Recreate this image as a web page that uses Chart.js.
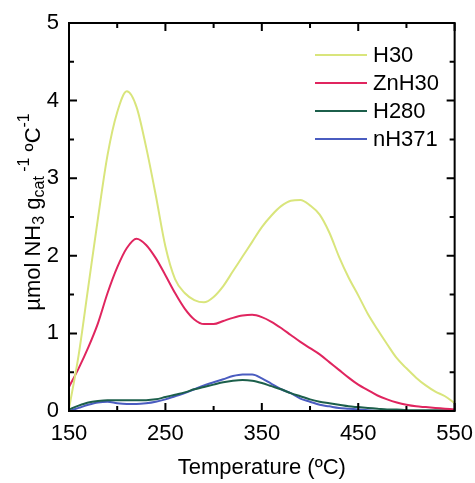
<!DOCTYPE html>
<html>
<head>
<meta charset="utf-8">
<script src="https://cdn.jsdelivr.net/npm/chart.js@4/dist/chart.umd.min.js"></script>
<style>
  body { margin: 0; background: #fff; }
  #wrap { width: 475px; height: 483px; }
</style>
</head>
<body>
<div id="wrap"><canvas id="myChart" width="475" height="483"></canvas></div>
<script>
// temperatura (ºC), cada 10 grados
const temperaturas = [150,160,170,180,190,200,210,220,230,240,250,260,270,280,290,300,310,320,330,340,350,
  360,370,380,390,400,410,420,430,440,450,460,470,480,490,500,510,520,530,540,550];

const serieH30 = [0.03,0.72,1.60,2.48,3.30,3.85,4.12,3.92,3.40,2.78,2.12,1.70,1.52,1.43,1.40,1.47,1.61,1.80,1.99,2.18,2.37,
  2.52,2.64,2.71,2.72,2.65,2.53,2.30,1.99,1.72,1.49,1.25,1.05,0.86,0.68,0.55,0.43,0.33,0.25,0.19,0.10];
const serieZnH30 = [0.31,0.55,0.82,1.13,1.52,1.85,2.10,2.22,2.14,1.97,1.75,1.52,1.32,1.18,1.12,1.12,1.16,1.20,1.23,1.24,1.21,
  1.15,1.07,0.98,0.89,0.81,0.73,0.63,0.53,0.43,0.34,0.27,0.20,0.15,0.11,0.08,0.06,0.05,0.04,0.03,0.02];
const serieH280 = [0.02,0.07,0.11,0.13,0.14,0.14,0.14,0.14,0.14,0.15,0.18,0.21,0.24,0.28,0.31,0.34,0.37,0.39,0.40,0.39,0.36,
  0.32,0.28,0.23,0.19,0.15,0.12,0.10,0.08,0.06,0.05,0.04,0.03,0.02,0.02,0.01,0.01,0.01,0.01,0.01,0.01];
const serieNH371 = [0.00,0.04,0.08,0.11,0.12,0.10,0.09,0.09,0.10,0.12,0.15,0.19,0.23,0.28,0.33,0.37,0.41,0.45,0.47,0.47,0.42,
  0.35,0.28,0.23,0.16,0.12,0.08,0.06,0.04,0.03,0.02,0.01,0.00,0.00,0.00,0.00,0.00,0.00,0.00,0.00,0.00];

const nombres = ['H30', 'ZnH30', 'H280', 'nH371'];
const colores = ['#d9e57c', '#e0255f', '#1c5f4b', '#4a5cc0'];
const series = [serieH30, serieZnH30, serieH280, serieNH371];

const fuente = '"Liberation Sans", Arial, Helvetica, sans-serif';

// arma los puntos x,y para cada serie
const datasets = series.map((serie, i) => ({
  label: nombres[i],
  data: serie.map((v, j) => ({ x: temperaturas[j], y: v })),
  borderColor: colores[i],
  backgroundColor: colores[i],
  borderWidth: 2,
  pointRadius: 0,
  cubicInterpolationMode: 'monotone',
  fill: false
}));

// marco y ticks hacia adentro
const marcoPlugin = {
  id: 'marco',
  afterDraw(chart) {
    const ctx = chart.ctx;
    const a = chart.chartArea;
    const sx = chart.scales.x, sy = chart.scales.y;
    ctx.save();
    ctx.strokeStyle = '#000';
    ctx.lineWidth = 2;
    ctx.strokeRect(a.left, a.top, a.right - a.left, a.bottom - a.top);
    ctx.beginPath();
    for (let t = 150; t <= 550; t += 50) {
      const x = sx.getPixelForValue(t);
      const largo = (t - 150) % 100 == 0 ? 8 : 5;
      ctx.moveTo(x, a.bottom); ctx.lineTo(x, a.bottom - largo);
      ctx.moveTo(x, a.top); ctx.lineTo(x, a.top + largo);
    }
    for (let v = 0; v <= 5; v += 0.5) {
      const y = sy.getPixelForValue(v);
      const largo = v % 1 == 0 ? 8 : 5;
      ctx.moveTo(a.left, y); ctx.lineTo(a.left + largo, y);
      ctx.moveTo(a.right, y); ctx.lineTo(a.right - largo, y);
    }
    ctx.stroke();

    // leyenda
    ctx.font = '22px ' + fuente;
    ctx.textBaseline = 'middle';
    ctx.fillStyle = '#000';
    nombres.forEach((n, i) => {
      const y = 55 + i * 28;
      ctx.strokeStyle = colores[i];
      ctx.lineWidth = 2;
      ctx.beginPath();
      ctx.moveTo(315, y); ctx.lineTo(367, y);
      ctx.stroke();
      ctx.fillText(n, 373, y + 1);
    });

    // titulo eje y con subindices y superindices
    const partes = [
      { t: 'µmol NH', s: 22, dy: 0 },
      { t: '3', s: 16, dy: 4 },
      { t: ' g', s: 22, dy: 0 },
      { t: 'cat', s: 16, dy: 4 },
      { t: ' -1', s: 16, dy: -11 },
      { t: ' ºC', s: 22, dy: 0 },
      { t: '-1', s: 16, dy: -11 }
    ];
    let total = 0;
    partes.forEach(p => { ctx.font = p.s + 'px ' + fuente; p.w = ctx.measureText(p.t).width; total += p.w; });
    ctx.translate(40, 212);
    ctx.rotate(-Math.PI / 2);
    ctx.textBaseline = 'alphabetic';
    let x = -total / 2;
    partes.forEach(p => {
      ctx.font = p.s + 'px ' + fuente;
      ctx.fillText(p.t, x, p.dy);
      x += p.w;
    });
    ctx.restore();
  }
};

const config = {
  type: 'line',
  data: { datasets },
  options: {
    responsive: false,
    animation: false,
    layout: { padding: { top: 23, right: 0, left: 0, bottom: 0 } },
    plugins: { legend: { display: false }, tooltip: { enabled: false } },
    scales: {
      x: {
        type: 'linear',
        min: 150, max: 550,
        grid: { display: false },
        border: { display: false },
        ticks: { stepSize: 100, color: '#000', padding: 2, font: { family: fuente, size: 22 } },
        title: { display: true, text: 'Temperature (ºC)', color: '#000', padding: { top: 0, bottom: 2 }, font: { family: fuente, size: 22 } },
        afterFit: (s) => { s.height = 72; }
      },
      y: {
        min: 0, max: 5,
        grid: { display: false },
        border: { display: false },
        ticks: { stepSize: 1, color: '#000', padding: 2, font: { family: fuente, size: 22 } },
        afterFit: (s) => { s.width = 69; }
      }
    }
  },
  plugins: [marcoPlugin]
};

new Chart(document.getElementById('myChart'), config);
</script>
</body>
</html>
